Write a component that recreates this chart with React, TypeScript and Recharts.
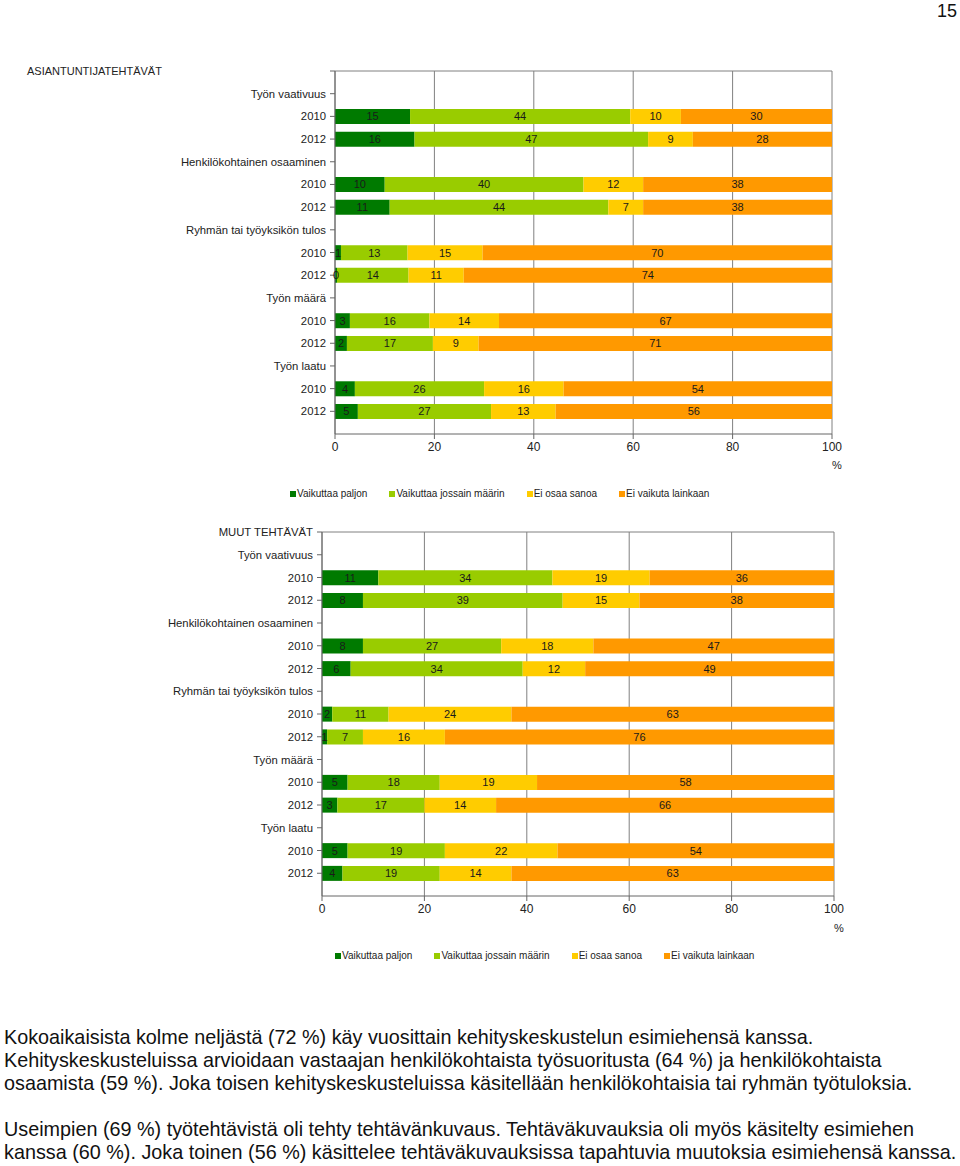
import React from "react";
import {
  BarChart,
  Bar,
  XAxis,
  YAxis,
  CartesianGrid,
  LabelList,
  ReferenceLine,
} from "recharts";

const FONT = '"Liberation Sans", Arial, Helvetica, sans-serif';

const seriesNames = [
  "Vaikuttaa paljon",
  "Vaikuttaa jossain määrin",
  "Ei osaa sanoa",
  "Ei vaikuta lainkaan",
];
const seriesKeys = ["paljon", "jossain", "eiosaa", "eivaikuta"];
const seriesColors = ["#007A00", "#99CC00", "#FFCC00", "#FF9900"];

const xTicks = [0, 20, 40, 60, 80, 100];

// Chart 1: ASIANTUNTIJATEHTÄVÄT
const rowLabels1 = [
  "",
  "Työn vaativuus",
  "2010",
  "2012",
  "Henkilökohtainen osaaminen",
  "2010",
  "2012",
  "Ryhmän tai työyksikön tulos",
  "2010",
  "2012",
  "Työn määrä",
  "2010",
  "2012",
  "Työn laatu",
  "2010",
  "2012",
];
const paljon1 = [null, null, 15.1, 16, null, 10, 11, null, 1.2, 0.4, null, 3, 2.4, null, 4, 4.6];
const jossain1 = [null, null, 44.3, 47, null, 40, 44, null, 13.4, 14.4, null, 16, 17.3, null, 26, 26.8];
const eiosaa1 = [null, null, 10.2, 9, null, 12, 7, null, 15.1, 11.1, null, 14, 9.2, null, 16, 13.0];
const eivaikuta1 = [null, null, 30.4, 28, null, 38, 38, null, 70.3, 74.1, null, 67, 71.1, null, 54, 55.6];

// Chart 2: MUUT TEHTÄVÄT
const rowLabels2 = [
  "MUUT TEHTÄVÄT",
  "Työn vaativuus",
  "2010",
  "2012",
  "Henkilökohtainen osaaminen",
  "2010",
  "2012",
  "Ryhmän tai työyksikön tulos",
  "2010",
  "2012",
  "Työn määrä",
  "2010",
  "2012",
  "Työn laatu",
  "2010",
  "2012",
];
const paljon2 = [null, null, 11, 8, null, 8, 5.6, null, 2, 1, null, 5, 3, null, 5, 4];
const jossain2 = [null, null, 34, 39, null, 27, 33.6, null, 11, 7, null, 18, 17, null, 19, 19];
const eiosaa2 = [null, null, 19, 15, null, 18, 12.2, null, 24, 16, null, 19, 14, null, 22, 14];
const eivaikuta2 = [null, null, 36, 38, null, 47, 48.6, null, 63, 76, null, 58, 66, null, 54, 63];

const buildData = (
  labels: string[],
  a: (number | null)[],
  b: (number | null)[],
  c: (number | null)[],
  d: (number | null)[]
) =>
  labels.map((label, i) => ({
    pos: i,
    label,
    paljon: a[i],
    jossain: b[i],
    eiosaa: c[i],
    eivaikuta: d[i],
  }));

const data1 = buildData(rowLabels1, paljon1, jossain1, eiosaa1, eivaikuta1);
const data2 = buildData(rowLabels2, paljon2, jossain2, eiosaa2, eivaikuta2);

const LegendBox = ({ left, top }: { left: number; top: number }) => (
  <div
    style={{
      position: "absolute",
      left,
      top,
      display: "flex",
      alignItems: "center",
      fontFamily: FONT,
      fontSize: 10,
      lineHeight: "12px",
      color: "#222",
      gap: 22,
      whiteSpace: "nowrap",
    }}
  >
    {seriesNames.map((n, i) => (
      <div key={n} style={{ display: "flex", alignItems: "center" }}>
        <span
          style={{
            display: "inline-block",
            width: 6,
            height: 6,
            background: seriesColors[i],
            marginRight: 1,
          }}
        />
        <span>{n}</span>
      </div>
    ))}
  </div>
);

type ChartProps = {
  data: ReturnType<typeof buildData>;
  labels: string[];
  top: number;
  margin: { top: number; right: number; bottom: number; left: number };
  yWidth: number;
  legendTop: number;
  legendLeft: number;
  pctLeft: number;
  pctTop: number;
};

const StackChart = ({ data, labels, top, margin, yWidth, legendTop, legendLeft, pctLeft, pctTop }: ChartProps) => (
  <div style={{ position: "absolute", left: 0, top, width: 960, height: 500 }}>
    <BarChart
      width={960}
      height={500}
      data={data}
      layout="vertical"
      margin={margin}
      barSize={15}
    >
      <CartesianGrid horizontal={false} vertical={true} stroke="#808080" strokeWidth={1} />
      <ReferenceLine y={0} stroke="#808080" strokeWidth={1} />
      <XAxis
        type="number"
        domain={[0, 100]}
        ticks={xTicks}
        interval={0}
        height={30}
        axisLine={{ stroke: "#666" }}
        tickLine={{ stroke: "#666" }}
        tickSize={5}
        tickMargin={3}
        tick={{ fontSize: 12, fill: "#222", fontFamily: FONT }}
      />
      <YAxis
        type="number"
        dataKey="pos"
        domain={[0, 16]}
        ticks={labels.map((_, i) => i)}
        interval={0}
        width={yWidth}
        axisLine={{ stroke: "#666" }}
        tickLine={{ stroke: "#666" }}
        tickSize={5}
        tickMargin={4}
        tickFormatter={(v: number) => labels[v] ?? ""}
        tick={{ fontSize: 11.3, fill: "#222", fontFamily: FONT }}
      />
      {seriesKeys.map((k, i) => (
        <Bar
          key={k}
          dataKey={k}
          name={seriesNames[i]}
          stackId="a"
          fill={seriesColors[i]}
          isAnimationActive={false}
        >
          <LabelList
            dataKey={k}
            position="center"
            formatter={(v: any) => (v === null || v === undefined ? "" : String(Math.round(Number(v))))}
            style={{ fontSize: 11, fill: "#1a1a1a", fontFamily: FONT }}
          />
        </Bar>
      ))}
    </BarChart>
    <div
      style={{
        position: "absolute",
        left: pctLeft,
        top: pctTop,
        fontSize: 11,
        fontFamily: FONT,
        color: "#222",
      }}
    >
      %
    </div>
    <LegendBox left={legendLeft} top={legendTop} />
  </div>
);

export default function App() {
  return (
    <div
      style={{
        position: "absolute",
        left: 0,
        top: 0,
        width: 960,
        height: 1166,
        background: "#fff",
        fontFamily: FONT,
        overflow: "hidden",
      }}
    >
      <div style={{ position: "absolute", right: 3, top: 1, fontSize: 18, color: "#111" }}>15</div>
      <div style={{ position: "absolute", left: 27, top: 65, fontSize: 11, color: "#222" }}>
        ASIANTUNTIJATEHTÄVÄT
      </div>
      <StackChart
        data={data1}
        labels={rowLabels1}
        top={0}
        margin={{ top: 71, right: 128, bottom: 36, left: 0 }}
        yWidth={335}
        legendTop={488}
        legendLeft={290}
        pctLeft={832}
        pctTop={459}
      />
      <StackChart
        data={data2}
        labels={rowLabels2}
        top={460}
        margin={{ top: 72, right: 126, bottom: 34, left: 0 }}
        yWidth={322}
        legendTop={490}
        legendLeft={335}
        pctLeft={834}
        pctTop={462}
      />
      <div
        style={{
          position: "absolute",
          left: 4,
          top: 1026,
          width: 956,
          fontSize: 19.8,
          lineHeight: "23px",
          color: "#111",
          whiteSpace: "nowrap",
        }}
      >
        <div>Kokoaikaisista kolme neljästä (72 %) käy vuosittain kehityskeskustelun esimiehensä kanssa.</div>
        <div>
          Kehityskeskusteluissa arvioidaan vastaajan henkilökohtaista työsuoritusta (64 %) ja henkilökohtaista
        </div>
        <div>osaamista (59 %). Joka toisen kehityskeskusteluissa käsitellään henkilökohtaisia tai ryhmän työtuloksia.</div>
        <div style={{ height: 23 }} />
        <div>Useimpien (69 %) työtehtävistä oli tehty tehtävänkuvaus. Tehtäväkuvauksia oli myös käsitelty esimiehen</div>
        <div>kanssa (60 %). Joka toinen (56 %) käsittelee tehtäväkuvauksissa tapahtuvia muutoksia esimiehensä kanssa.</div>
      </div>
    </div>
  );
}
